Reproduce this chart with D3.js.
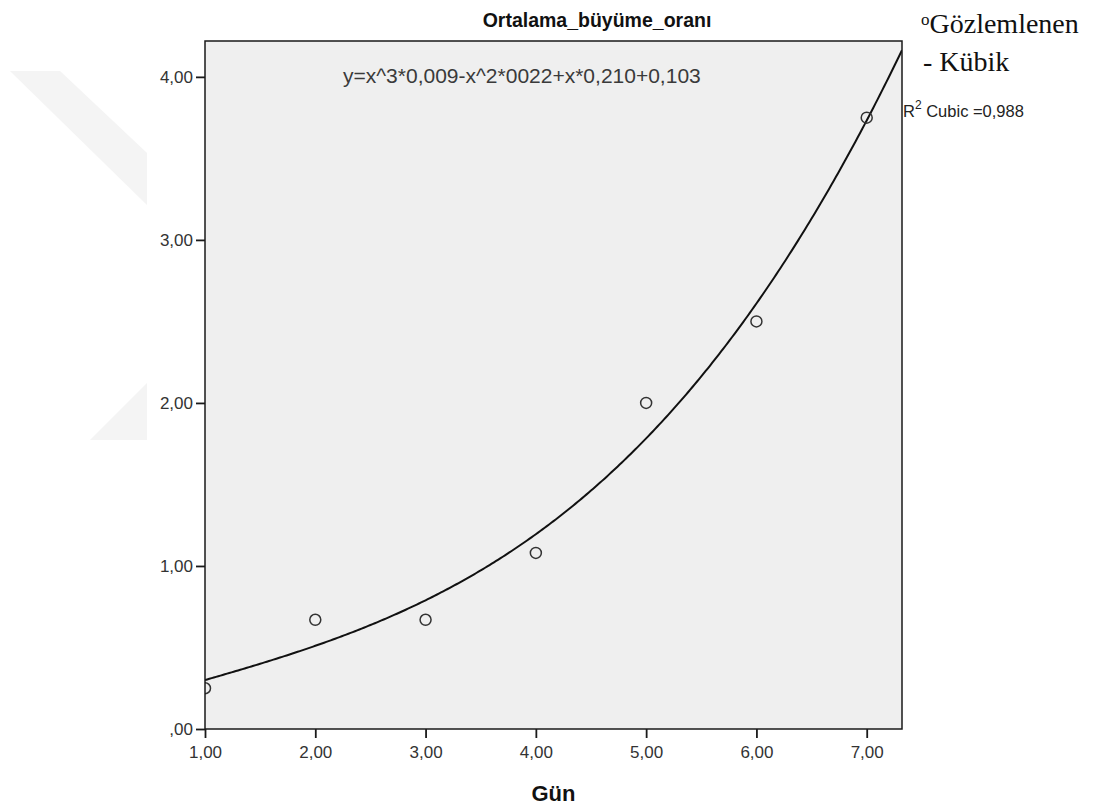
<!DOCTYPE html>
<meta charset="utf-8" />
<script src="https://d3js.org/d3.v7.min.js"></script>
<body style="margin: 0; background-color: #ffffff">
  <div id="chart"></div>
  <script>
    // observed values (Gün vs Ortalama_büyüme_oranı)
    var days = [1, 2, 3, 4, 5, 6, 7];
    var rates = [0.25, 0.67, 0.67, 1.08, 2.0, 2.5, 3.75];
    var xTicks = [1, 2, 3, 4, 5, 6, 7];
    var yTicks = [0, 1, 2, 3, 4];
    var titleText = "Ortalama_büyüme_oranı";
    var xLabel = "Gün";
    var equationText = "y=x^3*0,009-x^2*0022+x*0,210+0,103";
    var r2Text = "Cubic =0,988";
    var legendLabels = ["Gözlemlenen", "- Kübik"];

    var W = 1108,
      H = 810;
    var plot = { left: 205, top: 41, right: 902, bottom: 729 };

    var svg = d3
      .select("#chart")
      .append("svg")
      .attr("width", W)
      .attr("height", H)
      .style("display", "block");

    // faint watermark in the left margin
    var marks = [
      [[10, 71], [60, 71], [147, 153], [147, 205]],
      [[90, 440], [147, 440], [147, 383]],
    ];
    svg
      .selectAll("polygon.wm")
      .data(marks)
      .enter()
      .append("polygon")
      .attr("class", "wm")
      .attr("points", function (d) {
        return d.join(" ");
      })
      .attr("fill", "#f4f4f4");

    var x = d3.scaleLinear().domain([1, 7.32]).range([plot.left, plot.right]);
    var y = d3.scaleLinear().domain([0, 4.22]).range([plot.bottom, plot.top]);

    function fmt(v) {
      return v === 0 ? ",00" : v.toFixed(2).replace(".", ",");
    }

    svg
      .append("rect")
      .attr("x", plot.left)
      .attr("y", plot.top)
      .attr("width", plot.right - plot.left)
      .attr("height", plot.bottom - plot.top)
      .attr("fill", "#efefef");

    svg
      .append("clipPath")
      .attr("id", "clip")
      .append("rect")
      .attr("x", plot.left)
      .attr("y", plot.top)
      .attr("width", plot.right - plot.left)
      .attr("height", plot.bottom - plot.top);

    // cubic least squares fit of the observed points
    function polyFit(xs, ys, deg) {
      var n = deg + 1;
      var A = [];
      for (var i = 0; i < n; i++) {
        A.push([]);
        for (var j = 0; j <= n; j++) A[i].push(0);
      }
      xs.forEach(function (xv, k) {
        for (var i = 0; i < n; i++) {
          for (var j = 0; j < n; j++) A[i][j] += Math.pow(xv, i + j);
          A[i][n] += ys[k] * Math.pow(xv, i);
        }
      });
      for (var c = 0; c < n; c++) {
        var p = c;
        for (var r = c + 1; r < n; r++)
          if (Math.abs(A[r][c]) > Math.abs(A[p][c])) p = r;
        var tmp = A[c];
        A[c] = A[p];
        A[p] = tmp;
        for (var r2 = 0; r2 < n; r2++) {
          if (r2 === c) continue;
          var f = A[r2][c] / A[c][c];
          for (var k2 = c; k2 <= n; k2++) A[r2][k2] -= f * A[c][k2];
        }
      }
      return A.map(function (row, i) {
        return row[n] / row[i];
      });
    }
    var coef = polyFit(days, rates, 3);
    function cubic(v) {
      return coef[0] + coef[1] * v + coef[2] * v * v + coef[3] * v * v * v;
    }
    var curve = d3.range(1, 7.33, 0.02).map(function (v) {
      return [v, cubic(v)];
    });

    var inner = svg.append("g").attr("clip-path", "url(#clip)");
    inner
      .append("path")
      .datum(curve)
      .attr("fill", "none")
      .attr("stroke", "#111")
      .attr("stroke-width", 2)
      .attr(
        "d",
        d3
          .line()
          .x(function (d) {
            return x(d[0]);
          })
          .y(function (d) {
            return y(d[1]);
          })
      );

    inner
      .selectAll("circle")
      .data(days)
      .enter()
      .append("circle")
      .attr("cx", function (d) {
        return x(d);
      })
      .attr("cy", function (d, i) {
        return y(rates[i]);
      })
      .attr("r", 5.5)
      .attr("fill", "none")
      .attr("stroke", "#333")
      .attr("stroke-width", 1.5);

    // frame
    svg
      .append("rect")
      .attr("x", plot.left)
      .attr("y", plot.top)
      .attr("width", plot.right - plot.left)
      .attr("height", plot.bottom - plot.top)
      .attr("fill", "none")
      .attr("stroke", "#1a1a1a")
      .attr("stroke-width", 1.5);

    var xAxis = svg
      .append("g")
      .attr("transform", "translate(0," + plot.bottom + ")")
      .call(d3.axisBottom(x).tickValues(xTicks).tickSize(9).tickPadding(8).tickFormat(fmt));
    var yAxis = svg
      .append("g")
      .attr("transform", "translate(" + plot.left + ",0)")
      .call(d3.axisLeft(y).tickValues(yTicks).tickSize(9).tickPadding(3).tickFormat(fmt));
    [xAxis, yAxis].forEach(function (a) {
      a.select(".domain").remove();
      a.selectAll("line").attr("stroke", "#1a1a1a").attr("stroke-width", 1.8);
      a.selectAll("text")
        .attr("fill", "#333")
        .style("font-family", "Arial, 'Liberation Sans', sans-serif")
        .style("font-size", "17px");
    });

    svg
      .append("text")
      .attr("x", 597)
      .attr("y", 27)
      .attr("text-anchor", "middle")
      .style("font-family", "Arial, 'Liberation Sans', sans-serif")
      .style("font-weight", "bold")
      .style("font-size", "19.5px")
      .attr("fill", "#111")
      .text(titleText);

    svg
      .append("text")
      .attr("x", 343)
      .attr("y", 83)
      .style("font-family", "Arial, 'Liberation Sans', sans-serif")
      .style("font-size", "21px")
      .attr("fill", "#3a3a3a")
      .text(equationText);

    svg
      .append("text")
      .attr("x", (plot.left + plot.right) / 2)
      .attr("y", 801)
      .attr("text-anchor", "middle")
      .style("font-family", "Arial, 'Liberation Sans', sans-serif")
      .style("font-weight", "bold")
      .style("font-size", "22px")
      .attr("fill", "#111")
      .text(xLabel);

    var r2 = svg
      .append("text")
      .attr("x", 903)
      .attr("y", 117)
      .style("font-family", "Arial, 'Liberation Sans', sans-serif")
      .style("font-size", "16.5px")
      .attr("fill", "#222");
    r2.append("tspan").text("R");
    r2.append("tspan").attr("dy", -8).style("font-size", "12px").text("2");
    r2.append("tspan").attr("dy", 8).text(" " + r2Text);

    var leg1 = svg
      .append("text")
      .attr("x", 921)
      .attr("y", 33)
      .style("font-family", "'Times New Roman', 'Liberation Serif', serif")
      .style("font-size", "28px")
      .attr("fill", "#111");
    leg1.append("tspan").attr("dy", -8).style("font-size", "17px").text("o");
    leg1.append("tspan").attr("dy", 8).text(legendLabels[0]);

    svg
      .append("text")
      .attr("x", 923)
      .attr("y", 71)
      .style("font-family", "'Times New Roman', 'Liberation Serif', serif")
      .style("font-size", "28px")
      .attr("fill", "#111")
      .text(legendLabels[1]);
  </script>
</body>
